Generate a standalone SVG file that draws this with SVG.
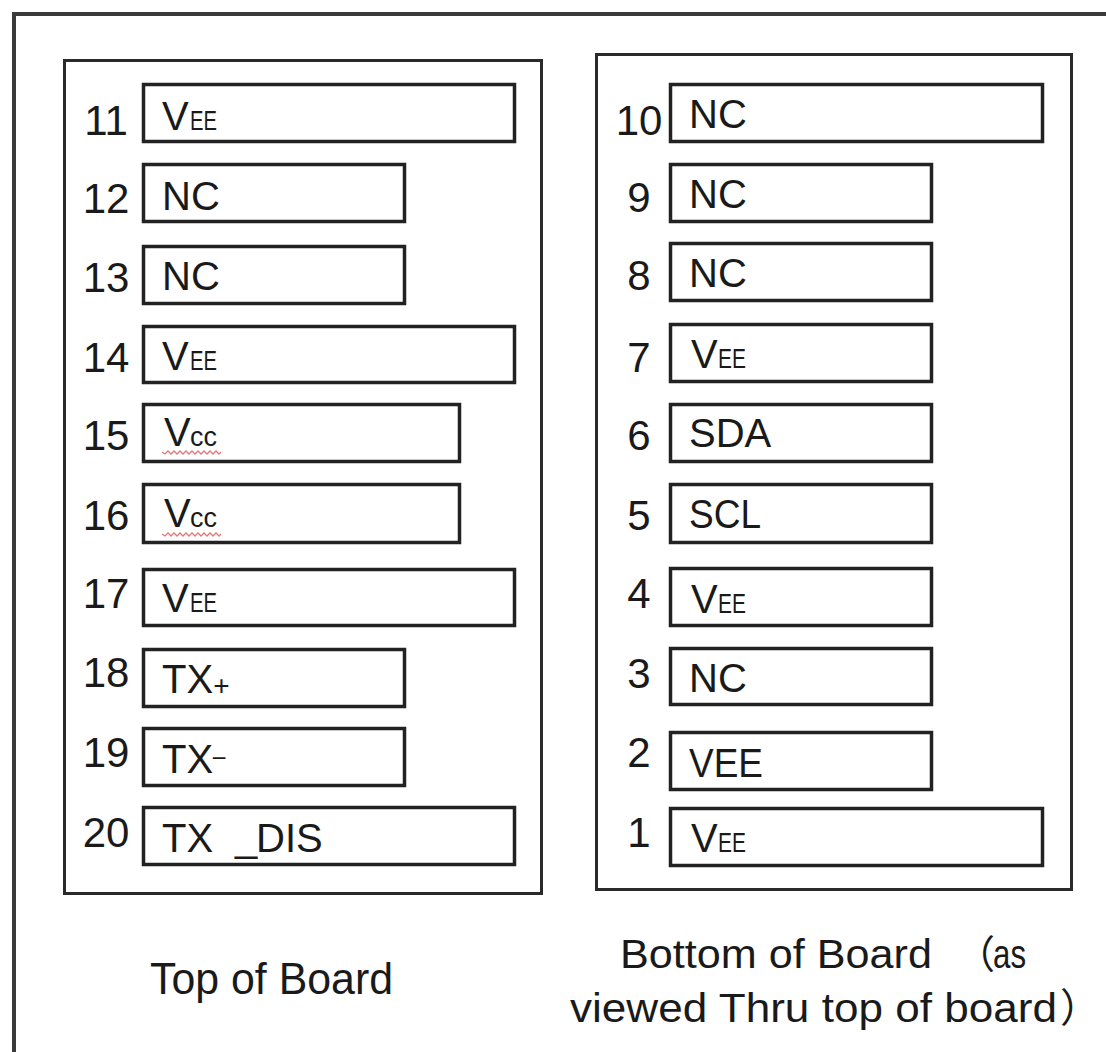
<svg xmlns="http://www.w3.org/2000/svg" width="1106" height="1052" viewBox="0 0 1106 1052">
<style>
  text { font-family: "Liberation Sans", "Noto Sans CJK SC", sans-serif; fill: #1a1a1a; }
  .frame { fill: none; stroke: #3a3a3a; stroke-width: 4; }
  .panel { fill: none; stroke: #2a2a2a; stroke-width: 3; }
  .pin { fill: #ffffff; stroke: #222222; stroke-width: 3.5; }
  .n { font-size: 42px; text-anchor: middle; }
  .lb { font-size: 40px; }
  .sm { font-size: 28px; }
  .cc { font-size: 27px; }
  .sq { fill: none; stroke: #e07a7a; stroke-width: 1.3; }
</style>
<rect width="1106" height="1052" fill="#ffffff"/>
<g id="frame">
  <path class="frame" d="M12,14 H1106 M14,12 V1052"/>
</g>
<g id="top-board">
  <rect class="panel" x="64.5" y="60.5" width="477" height="833"/>
</g>
<g id="bottom-board">
  <rect class="panel" x="596.5" y="54.5" width="475" height="835"/>
</g>
<g id="connectors"/>

<g id="pin11"><rect class="pin" x="143.5" y="84.5" width="371" height="57"/><text class="n" x="106" y="135">11</text><text class="lb" x="162" y="130">V</text><text class="sm" x="190" y="130" textLength="27" lengthAdjust="spacingAndGlyphs">EE</text></g>
<g id="pin12"><rect class="pin" x="143.5" y="164.5" width="261" height="57"/><text class="n" x="106" y="213">12</text><text class="lb" x="162" y="210">NC</text></g>
<g id="pin13"><rect class="pin" x="143.5" y="246.5" width="261" height="57"/><text class="n" x="106" y="292">13</text><text class="lb" x="162" y="290">NC</text></g>
<g id="pin14"><rect class="pin" x="143.5" y="326.5" width="371" height="56"/><text class="n" x="106" y="372">14</text><text class="lb" x="162" y="370">V</text><text class="sm" x="190" y="370" textLength="27" lengthAdjust="spacingAndGlyphs">EE</text></g>
<g id="pin15"><rect class="pin" x="143.5" y="404.5" width="316" height="57"/><text class="n" x="106" y="450">15</text><text class="lb" x="164" y="446">V</text><text class="cc" x="190" y="446">cc</text><polyline class="sq" points="162,452 165,454 168,451 171,454 174,451 177,454 180,451 183,454 186,451 189,454 192,451 195,454 198,451 201,454 204,451 207,454 210,451 213,454 216,451 219,454 221,452"/></g>
<g id="pin16"><rect class="pin" x="143.5" y="484.5" width="316" height="58"/><text class="n" x="106" y="530">16</text><text class="lb" x="164" y="527">V</text><text class="cc" x="190" y="527">cc</text><polyline class="sq" points="162,534 165,536 168,533 171,536 174,533 177,536 180,533 183,536 186,533 189,536 192,533 195,536 198,533 201,536 204,533 207,536 210,533 213,536 216,533 219,536 221,534"/></g>
<g id="pin17"><rect class="pin" x="143.5" y="569.5" width="371" height="56"/><text class="n" x="106" y="608">17</text><text class="lb" x="162" y="612">V</text><text class="sm" x="190" y="612" textLength="27" lengthAdjust="spacingAndGlyphs">EE</text></g>
<g id="pin18"><rect class="pin" x="143.5" y="649.5" width="261" height="57"/><text class="n" x="106" y="687">18</text><text class="lb" x="162" y="693">TX</text><text class="sm" x="221.5" y="695" text-anchor="middle">+</text></g>
<g id="pin19"><rect class="pin" x="143.5" y="728.5" width="261" height="57"/><text class="n" x="106" y="767">19</text><text class="lb" x="162" y="773">TX</text><text x="219" y="767" font-size="26" text-anchor="middle">−</text></g>
<g id="pin20"><rect class="pin" x="143.5" y="807.5" width="371" height="57"/><text class="n" x="106" y="847">20</text><text class="lb" x="162" y="852">TX</text><text class="lb" x="235" y="851">_</text><text class="lb" x="256" y="852">DIS</text></g>

<g id="pin10"><rect class="pin" x="670.5" y="84.5" width="372" height="57"/><text class="n" x="639" y="135">10</text><text class="lb" x="689" y="128">NC</text></g>
<g id="pin9"><rect class="pin" x="670.5" y="164.5" width="261" height="57"/><text class="n" x="639" y="212">9</text><text class="lb" x="689" y="208">NC</text></g>
<g id="pin8"><rect class="pin" x="670.5" y="243.5" width="261" height="57"/><text class="n" x="639" y="290">8</text><text class="lb" x="689" y="287">NC</text></g>
<g id="pin7"><rect class="pin" x="670.5" y="324.5" width="261" height="57"/><text class="n" x="639" y="372">7</text><text class="lb" x="691" y="368">V</text><text class="sm" x="718" y="368" textLength="28" lengthAdjust="spacingAndGlyphs">EE</text></g>
<g id="pin6"><rect class="pin" x="670.5" y="404.5" width="261" height="57"/><text class="n" x="639" y="450">6</text><text class="lb" x="689" y="447">SDA</text></g>
<g id="pin5"><rect class="pin" x="670.5" y="484.5" width="261" height="58"/><text class="n" x="639" y="530">5</text><text class="lb" x="689" y="528" textLength="72" lengthAdjust="spacingAndGlyphs">SCL</text></g>
<g id="pin4"><rect class="pin" x="670.5" y="568.5" width="261" height="57"/><text class="n" x="639" y="608">4</text><text class="lb" x="691" y="613">V</text><text class="sm" x="718" y="613" textLength="28" lengthAdjust="spacingAndGlyphs">EE</text></g>
<g id="pin3"><rect class="pin" x="670.5" y="648.5" width="261" height="56"/><text class="n" x="639" y="688">3</text><text class="lb" x="689" y="692">NC</text></g>
<g id="pin2"><rect class="pin" x="670.5" y="732.5" width="261" height="57"/><text class="n" x="639" y="767">2</text><text class="lb" x="689" y="777" textLength="74" lengthAdjust="spacingAndGlyphs">VEE</text></g>
<g id="pin1"><rect class="pin" x="670.5" y="808.5" width="372" height="57"/><text class="n" x="639" y="847">1</text><text class="lb" x="691" y="852">V</text><text class="sm" x="718" y="852" textLength="28" lengthAdjust="spacingAndGlyphs">EE</text></g>

<g id="captions">
  <text x="150" y="994" font-size="45" textLength="243" lengthAdjust="spacingAndGlyphs">Top of Board</text>
  <text x="620" y="968" font-size="40" textLength="312" lengthAdjust="spacingAndGlyphs">Bottom of Board</text>
  <text x="956" y="968" font-size="39">（</text>
  <text x="993" y="968" font-size="40" textLength="33" lengthAdjust="spacingAndGlyphs">as</text>
  <text x="570" y="1022" font-size="41" textLength="487" lengthAdjust="spacingAndGlyphs">viewed Thru top of board</text>
  <text x="1060" y="1022" font-size="40">）</text>
</g>
</svg>
